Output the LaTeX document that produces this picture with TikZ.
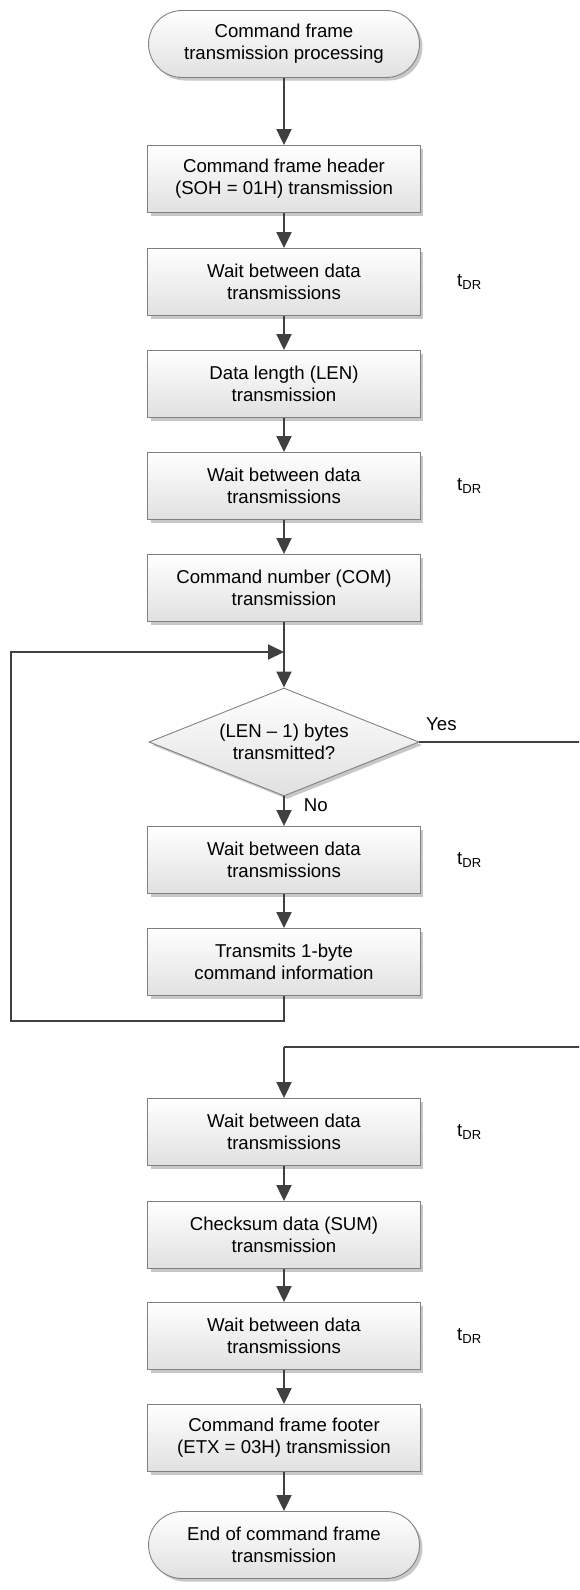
\documentclass[tikz,border=0pt]{standalone}
\usepackage{fontspec}
\setmainfont{Liberation Sans}
\usetikzlibrary{shapes.geometric, shadows, arrows.meta}

\definecolor{linegray}{HTML}{404040}
\definecolor{edgegray}{HTML}{808080}

\begin{document}
\begin{tikzpicture}[x=0.02cm, y=-0.02cm,
    font=\fontsize{10.6}{12.5}\selectfont,
    base/.style={draw=edgegray, line width=0.5pt, top color=white, bottom color=black!12, align=center,
      drop shadow={shadow xshift=0.06cm, shadow yshift=-0.06cm, fill=black!22, opacity=1}},
    proc/.style={base, rectangle, minimum width=5.46cm, minimum height=1.34cm, inner sep=0pt},
    term/.style={base, rectangle, rounded corners=0.67cm, minimum width=5.42cm, minimum height=1.34cm},
    decide/.style={base, diamond, aspect=2.5, minimum width=5.4cm, minimum height=2.16cm, inner sep=0pt},
    wire/.style={draw=linegray, line width=1.1pt},
    flow/.style={wire, -{Triangle[length=0.32cm, width=0.3cm]}}]
        \useasboundingbox (0,0) rectangle (579,1590);
        \clip (0,0) rectangle (579,1590);

        \node [term] (start) at (284, 44) {Command frame\\transmission processing};
        \node [proc] (hdr) at (284, 179) {Command frame header\\(SOH = 01H) transmission};
        \node [proc] (wait1) at (284, 282) {Wait between data\\transmissions};
        \node [proc] (len) at (284, 384) {Data length (LEN)\\transmission};
        \node [proc] (wait2) at (284, 486) {Wait between data\\transmissions};
        \node [proc] (com) at (284, 588) {Command number (COM)\\transmission};
        \node [decide] (dec) at (284, 742) {(LEN -- 1) bytes\\transmitted?};
        \node [proc] (wait3) at (284, 860) {Wait between data\\transmissions};
        \node [proc] (info) at (284, 962) {Transmits 1-byte\\command information};
        \node [proc] (wait4) at (284, 1132) {Wait between data\\transmissions};
        \node [proc] (sum) at (284, 1235) {Checksum data (SUM)\\transmission};
        \node [proc] (wait5) at (284, 1336) {Wait between data\\transmissions};
        \node [proc] (ftr) at (284, 1438) {Command frame footer\\(ETX = 03H) transmission};
        \node [term] (stop) at (284, 1545) {End of command frame\\transmission};

        % wait times
        \node [anchor=west] (td1) at (451, 282) {t\textsubscript{DR}};
        \node [anchor=west] (td2) at (451, 486) {t\textsubscript{DR}};
        \node [anchor=west] (td3) at (451, 860) {t\textsubscript{DR}};
        \node [anchor=west] (td4) at (451, 1132) {t\textsubscript{DR}};
        \node [anchor=west] (td5) at (451, 1336) {t\textsubscript{DR}};

        \coordinate (j1) at (284, 652);
        \coordinate (lb) at (11, 1021);
        \coordinate (rt) at (590, 742);
        \coordinate (j2) at (284, 1047);

        \draw [flow] (start) -- (hdr);
        \draw [flow] (hdr) -- (wait1);
        \draw [flow] (wait1) -- (len);
        \draw [flow] (len) -- (wait2);
        \draw [flow] (wait2) -- (com);
        \draw [flow] (com) -- (dec);
        \draw [flow] (dec) -- (wait3) node [pos=0.3, right=0.26cm] {No};
        \draw [flow] (wait3) -- (info);
        \draw [flow] (info.south) |- (lb) |- (j1);
        \draw [wire] (dec.east) node [above right, yshift=0.1cm] {Yes} -- (rt) |- (j2);
        \draw [flow] (j2) -- (wait4);
        \draw [flow] (wait4) -- (sum);
        \draw [flow] (sum) -- (wait5);
        \draw [flow] (wait5) -- (ftr);
        \draw [flow] (ftr) -- (stop);
      \end{tikzpicture}
\end{document}
